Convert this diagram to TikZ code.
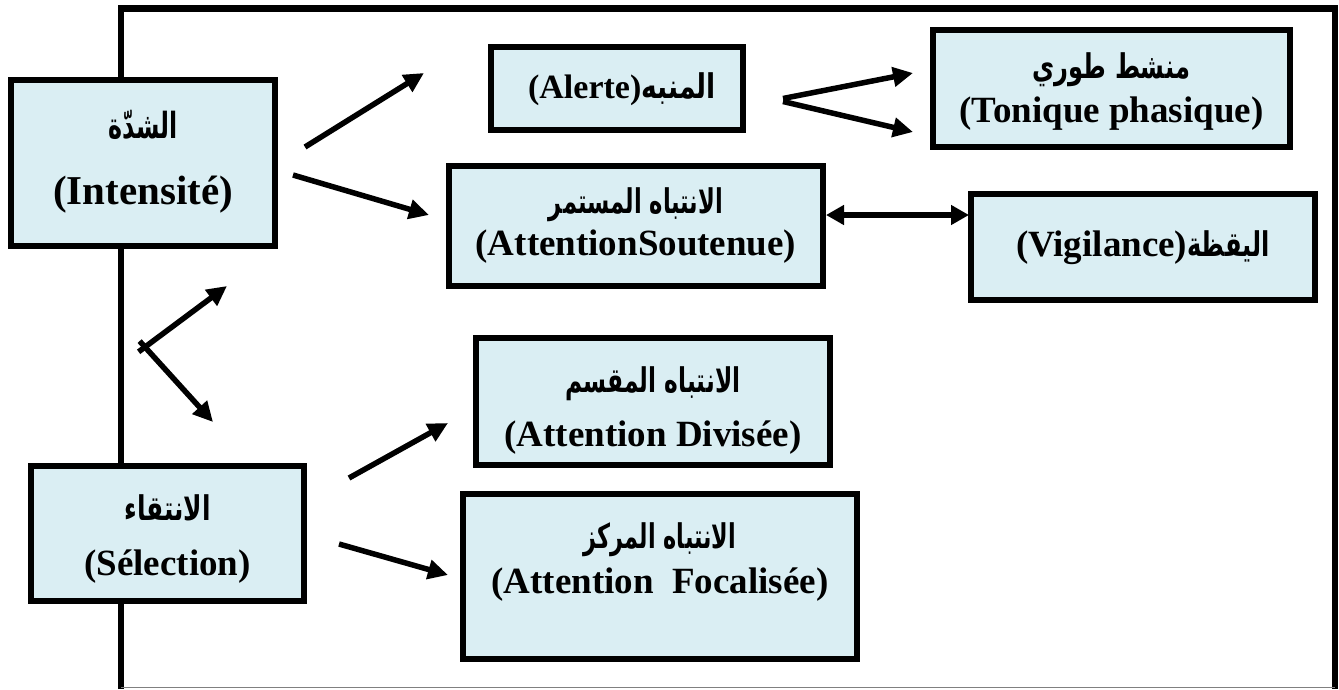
\documentclass[tikz,border=0pt]{standalone}
\usepackage{fontspec}
\usepackage{graphicx}
\setmainfont{Liberation Serif}
\newfontfamily\arabicfont[Script=Arabic]{DejaVu Sans}
\TeXXeTstate=1
\usetikzlibrary{arrows.meta}
\definecolor{boxfill}{HTML}{DAEEF3}
\begin{document}
\begin{tikzpicture}[x=1pt,y=-1pt,
  box/.style={draw=black, line width=6.5pt, fill=boxfill, rectangle, inner sep=0pt},
  lat/.style={font=\bfseries\fontsize{37}{40}\selectfont, inner sep=0pt, anchor=base},
  ara/.style={font=\arabicfont\bfseries\fontsize{34}{36}\selectfont, inner sep=0pt, anchor=base},
  arr/.style={line width=5.5pt, -{Triangle[length=20pt,width=19pt]}},
  dblarr/.style={line width=5.5pt, {Triangle[length=18pt,width=19pt]}-{Triangle[length=18pt,width=19pt]}},
  outerframe/.style={line width=6.5pt, line join=miter}
]
\useasboundingbox (0,0) rectangle (1339,689);

% outer frame
\coordinate (fbl) at (121,689);
\coordinate (ftl) at (121,8.5);
\coordinate (ftr) at (1335,8.5);
\coordinate (fbr) at (1335,689);
\coordinate (gbl) at (121,687.5);
\coordinate (gbr) at (1335,687.5);
\draw[outerframe] (fbl) -- (ftl) -- (ftr) -- (fbr);
\draw[gray, line width=1.2pt] (gbl) -- (gbr);

% boxes
\node[box, minimum width=264pt, minimum height=166pt] (inten) at (143,163) {};
\node[box, minimum width=273pt, minimum height=135pt] (selec) at (167.5,533.5) {};
\node[box, minimum width=252pt, minimum height=83pt] (alert) at (617,88.5) {};
\node[box, minimum width=374pt, minimum height=120pt] (sout) at (636,226) {};
\node[box, minimum width=357pt, minimum height=117pt] (toni) at (1111.5,88.5) {};
\node[box, minimum width=344pt, minimum height=106pt] (vigi) at (1143,247) {};
\node[box, minimum width=354pt, minimum height=127pt] (divi) at (653,401.5) {};
\node[box, minimum width=394pt, minimum height=165pt] (foca) at (660,576.5) {};

% texts
\node[ara, font=\arabicfont\bfseries\fontsize{36}{38}\selectfont] (intenA) at (143,138) {\scalebox{0.66}[1]{\beginR الشدّة\endR}};
\node[lat, font=\bfseries\fontsize{41}{44}\selectfont] (intenL) at (143,204) {(Intensité)};
\node[ara] (selecA) at (167.5,520) {\scalebox{0.73}[1]{\beginR الانتقاء\endR}};
\node[lat] (selecL) at (167.5,575) {(Sélection)};
\node[lat, font=\bfseries\fontsize{34}{36}\selectfont] (alertT) at (622,98) {(Alerte){\arabicfont\fontsize{34}{36}\selectfont\scalebox{0.78}[1]{\beginR المنبه\endR}}};
\node[ara] (soutA) at (636,213) {\scalebox{0.665}[1]{\beginR الانتباه المستمر\endR}};
\node[lat] (soutL) at (636,255) {(AttentionSoutenue)};
\node[ara] (toniA) at (1111.5,78) {\scalebox{0.71}[1]{\beginR منشط طوري\endR}};
\node[lat] (toniL) at (1111.5,122) {(Tonique phasique)};
\node[lat] (vigiT) at (1143,256) {(Vigilance){\arabicfont\fontsize{34}{36}\selectfont\scalebox{0.71}[1]{\beginR اليقظة\endR}}};
\node[ara] (diviA) at (653,392) {\scalebox{0.685}[1]{\beginR الانتباه المقسم\endR}};
\node[lat] (diviL) at (653,446) {(Attention Divisée)};
\node[ara] (focaA) at (660,548) {\scalebox{0.657}[1]{\beginR الانتباه المركز\endR}};
\node[lat] (focaL) at (660,593) {(Attention\hspace{0.5em}Focalisée)};

% arrow end points
\coordinate (a1s) at (305,147);
\coordinate (a1e) at (424,73);
\coordinate (a2s) at (293,175);
\coordinate (a2e) at (429,215);
\coordinate (a3v1) at (783,98.5);
\coordinate (a3v2) at (783,101.5);
\coordinate (a3u) at (913,73);
\coordinate (a3d) at (913,132);
\coordinate (a4l) at (826,215);
\coordinate (a4r) at (969,215);
\coordinate (a5u0) at (138.6,351.8);
\coordinate (a5d0) at (139.6,341.1);
\coordinate (a5u) at (227,286);
\coordinate (a5d) at (213,422);
\coordinate (a6s) at (349,478);
\coordinate (a6e) at (448,423);
\coordinate (a7s) at (339,544);
\coordinate (a7e) at (448,575);

\draw[arr] (a1s) -- (a1e);
\draw[arr] (a2s) -- (a2e);
\draw[arr] (a3v1) -- (a3u);
\draw[arr] (a3v2) -- (a3d);
\draw[dblarr] (a4l) -- (a4r);
\draw[arr] (a5u0) -- (a5u);
\draw[arr] (a5d0) -- (a5d);
\draw[arr] (a6s) -- (a6e);
\draw[arr] (a7s) -- (a7e);
\end{tikzpicture}
\end{document}
